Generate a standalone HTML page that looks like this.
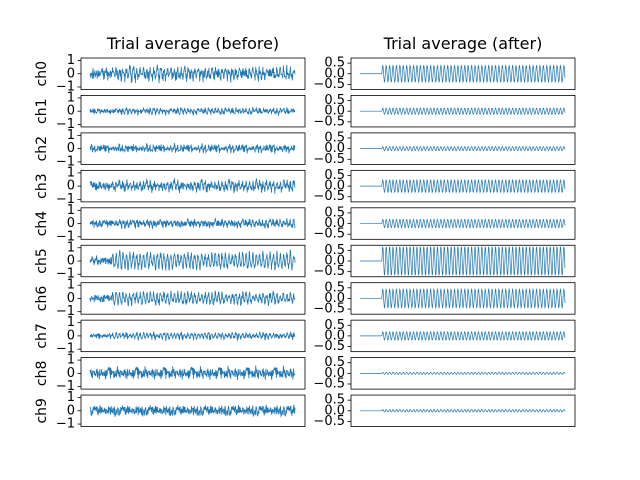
<!DOCTYPE html>
<html><head><meta charset="utf-8"><style>
body{margin:0;background:#fff}
svg{display:block;font-family:"DejaVu Sans","Liberation Sans",sans-serif}
</style></head><body>
<svg id="fig" width="640" height="480" viewBox="0 0 640 480">
<rect width="640" height="480" fill="#fff"/>
<text x="193" y="49" font-size="16" text-anchor="middle">Trial average (before)</text>
<text x="463" y="49" font-size="16" text-anchor="middle">Trial average (after)</text>
</svg>
<script>
const channels=["ch0","ch1","ch2","ch3","ch4","ch5","ch6","ch7","ch8","ch9"];
const noiseAmp=[0.45,0.22,0.32,0.38,0.3,0.35,0.3,0.2,0.5,0.45];
const afterAmp=[0.4,0.15,0.1,0.3,0.2,0.7,0.45,0.2,0.05,0.06];
const leftTicks=[1,0,-1];
const leftTickLabels=["1","0","\u22121"];
const rightTicks=[0.5,0,-0.5];
const rightTickLabels=["0.5","0.0","\u22120.5"];
const noise=[0.2,-0.5,0.8,-0.1,0.4,-0.9,0.3,0.6,-0.4,0.1,-0.7,0.5,0.9,-0.3,-0.8,0.2,0.4,-0.2,0.7,-0.6,0.0,0.5,-1.0,0.3,0.8,-0.4,0.1,-0.2,0.6,-0.7,0.4,0.9,-0.5,-0.1,0.3,-0.8,0.7,0.2,-0.3,0.5,-0.6,0.1,0.8,-0.9,0.4,-0.2,0.6,0.3,-0.7,0.0,0.9,-0.4,0.2,-0.6,0.5,-0.1,0.7,-0.8,0.3,0.1,-0.5,0.8,-0.3,0.4,-0.9,0.6,0.2,-0.2,0.5,-0.7,1.0,-0.4,0.1,0.3,-0.6,0.7,-0.1,-0.8,0.4,0.2,-0.3];
const nCycles=60, onset=0.107;
const NS="http://www.w3.org/2000/svg";
const fig=document.getElementById('fig');
function mk(t,a,p){const e=document.createElementNS(NS,t);for(const k in a)e.setAttribute(k,a[k]);(p||fig).appendChild(e);return e;}
const top0=58, pitch=37.45, h=31.5;
const cols=[{x:81,lim:1.19,ticks:leftTicks,labels:leftTickLabels,side:'before'},{x:351,lim:0.74,ticks:rightTicks,labels:rightTickLabels,side:'after'}];
channels.forEach((ch,r)=>{
  const y0=top0+r*pitch;
  const yl=mk('text',{x:42,y:y0+h/2,'font-size':14,'text-anchor':'middle','dominant-baseline':'central',transform:`rotate(-90 42 ${y0+h/2})`});
  yl.textContent=ch;
  
  
  cols.forEach((c,ci)=>{
    const g=mk('g',{});
    
    
    const w=224;
    const sy=v=>y0+h/2-v/c.lim*(h/2);
    const x0=c.x+9, x1=c.x+w-10;
    const N=ci===0?600:480;
    let d='';
    for(let i=0;i<=N;i++){
      const f=i/N;
      let v=0;
      const s=f>=onset?afterAmp[r]*Math.sin(2*Math.PI*nCycles*(f-onset)):0;
      if(ci===0){
        const k=(i*11+r*13)%noise.length;
        const k2=(i*5+r*29+5)%noise.length;
        v=0.7*s+noiseAmp[r]*(0.75*noise[k]+0.45*noise[k2]);
      } else v=s;
      d+=(i?'L':'M')+(x0+f*(x1-x0)).toFixed(2)+','+sy(v).toFixed(2);
    }
    const p=mk('path',{d:d,fill:'none',stroke:'#1f77b4','stroke-width':ci===0?0.8:0.7},g);
    
    
    const fr=mk('rect',{x:c.x,y:y0,width:w,height:h,fill:'none',stroke:'#000','stroke-width':0.8},g);
    
    
    c.ticks.forEach((t,ti)=>{
      const ty=sy(t);
      mk('line',{x1:c.x-3.5,x2:c.x,y1:ty,y2:ty,stroke:'#000','stroke-width':0.8},g);
      const tl=mk('text',{x:c.x-6,y:ty,'font-size':13,'text-anchor':'end','dominant-baseline':'central'},g);
      tl.textContent=c.labels[ti];
      
      
    });
  });
});
</script>
</body></html>
